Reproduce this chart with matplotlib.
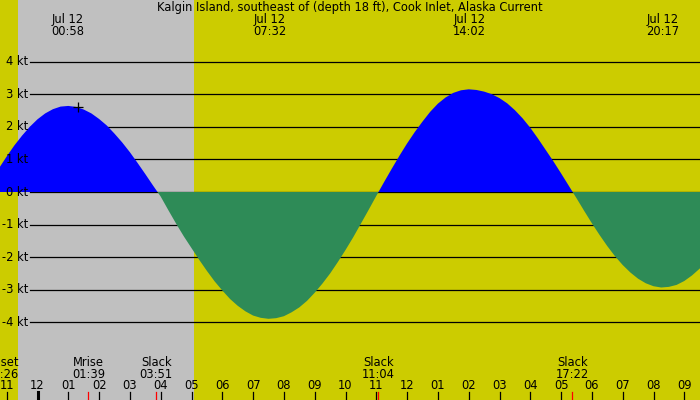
import matplotlib
matplotlib.use('Agg')
import matplotlib.pyplot as plt
import matplotlib.transforms as mtrans
import numpy as np

# times in hours from midnight Jul 12, speeds in knots
times = np.arange(-1.25, 22.0, 0.25)
speeds = np.array([
    0.73, 1.09, 1.43, 1.73, 2.00, 2.23, 2.41, 2.54, 2.62,
    2.64, 2.61, 2.53, 2.41, 2.24, 2.04, 1.79, 1.52, 1.22, 0.89, 0.55, 0.20,
    -0.14, -0.56, -0.97, -1.36, -1.72, -2.08, -2.42, -2.74, -3.02, -3.28,
    -3.49, -3.66, -3.79, -3.86, -3.89,
    -3.87, -3.81, -3.69, -3.54, -3.34, -3.09, -2.81, -2.50, -2.15, -1.78,
    -1.39, -0.97, -0.55, -0.12,
    0.30, 0.71, 1.11, 1.49, 1.84, 2.16, 2.46, 2.71, 2.90, 3.04, 3.12, 3.15,
    3.13, 3.08, 3.00, 2.88, 2.72, 2.51, 2.26, 1.97, 1.64, 1.29, 0.94, 0.57, 0.19,
    -0.19, -0.58, -0.96, -1.32, -1.66, -1.97, -2.24, -2.47, -2.66, -2.80,
    -2.89, -2.93,
    -2.91, -2.85, -2.73, -2.56, -2.35, -2.10])

kt_levels = [4, 3, 2, 1, 0, -1, -2, -3, -4]

hours = list(range(-1, 22))
hour_labels = ['11', '12', '01', '02', '03', '04', '05', '06', '07', '08', '09',
               '10', '11', '12', '01', '02', '03', '04', '05', '06', '07', '08', '09']

# max current events (top)
max_times = [0.967, 7.533, 14.033, 20.283]
max_labels = ['00:58', '07:32', '14:02', '20:17']
max_date = 'Jul 12'

# slack / moon events (bottom)
ev_times = [1.65, 3.85, 11.067, 17.367]
ev_names = ['Mrise', 'Slack', 'Slack', 'Slack']
ev_clock = ['01:39', '03:51', '11:04', '17:22']

# night shading
night_start = -0.62
night_end = 5.07
sunset_label = ('Sunset', '23:26')

now_t, now_v = 1.3, 2.6

title = 'Kalgin Island, southeast of (depth 18 ft), Cook Inlet, Alaska Current'

W, H = 700, 400
px_per_h = 30.8
x0_px = 37.5
px_per_kt = 32.6
y0_px = 192

fig = plt.figure(figsize=(W / 100, H / 100), dpi=100)
ax = fig.add_axes([0, 0, 1, 1])
ax.set_xlim(-x0_px / px_per_h, (W - x0_px) / px_per_h)
ax.set_ylim(-(H - y0_px) / px_per_kt, y0_px / px_per_kt)
ax.set_facecolor('#cccc00')
ax.axis('off')
fig.patch.set_facecolor('#cccc00')

ax.axvspan(night_start, night_end, color='#c0c0c0', lw=0, zorder=0)

for lv in kt_levels:
    ax.axhline(lv, xmin=30 / W, xmax=1, color='black', lw=0.9, zorder=1)

ax.fill_between(times, speeds, 0, where=speeds >= 0, interpolate=True,
                color='#0000ff', lw=0, zorder=2)
ax.fill_between(times, speeds, 0, where=speeds <= 0, interpolate=True,
                color='#2e8b57', lw=0, zorder=2)

ax.plot([now_t], [now_v], marker='+', color='black', ms=7, mew=0.9, zorder=4)

fs = 8.3
fy = lambda ypx: 1 - ypx / H
bt = mtrans.blended_transform_factory(ax.transData, fig.transFigure)

for lv in kt_levels:
    ax.text(28 / W, (lv * px_per_kt + (H - y0_px)) / H, '%d kt' % lv,
            transform=ax.transAxes, ha='right', va='center', fontsize=fs, zorder=5)

fig.text(0.5, fy(7.5), title, ha='center', va='center', fontsize=fs)

for t, lab in zip(max_times, max_labels):
    ax.text(t, fy(19.5), max_date, transform=bt, ha='center', va='center', fontsize=fs)
    ax.text(t, fy(31.5), lab, transform=bt, ha='center', va='center', fontsize=fs)

for t, nm, ck in zip(ev_times, ev_names, ev_clock):
    ax.text(t, fy(362), nm, transform=bt, ha='center', va='center', fontsize=fs)
    ax.text(t, fy(374), ck, transform=bt, ha='center', va='center', fontsize=fs)
    ax.axvline(t, ymin=0, ymax=8.5 / H, color='red', lw=0.9, zorder=3)

# sunset label sits against the left edge, partly cut like the original
ax.text(night_start, fy(362), sunset_label[0], transform=bt, ha='right', va='center', fontsize=fs)
ax.text(night_start, fy(374), sunset_label[1], transform=bt, ha='right', va='center', fontsize=fs)

for h, lab in zip(hours, hour_labels):
    ax.text(h, fy(385.5), lab, transform=bt, ha='center', va='center', fontsize=fs)
    ax.axvline(h, ymin=0, ymax=8.5 / H, color='black',
               lw=2.2 if h == 0 else 0.9, zorder=3)

fig.savefig('out.png', dpi=100, facecolor=fig.get_facecolor())
